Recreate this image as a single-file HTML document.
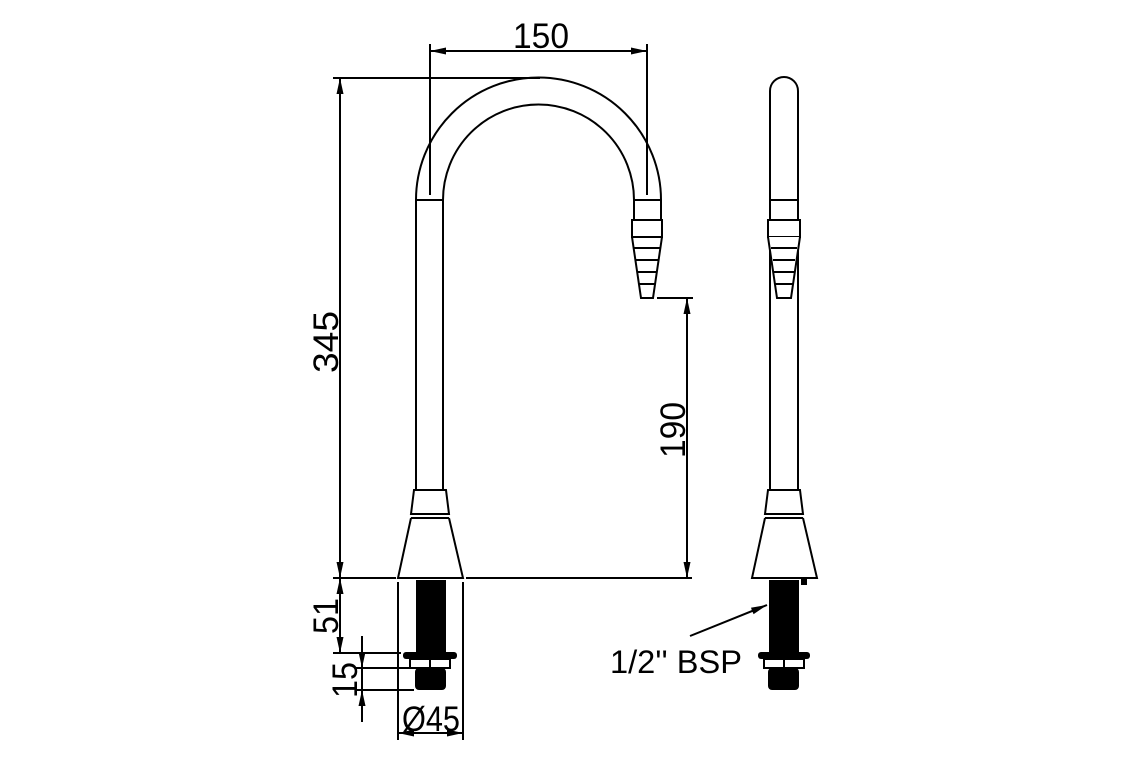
<!DOCTYPE html>
<html><head><meta charset="utf-8"><style>html,body{margin:0;padding:0;background:#fff}svg{display:block}</style></head><body>
<svg width="1140" height="760" viewBox="0 0 1140 760" xmlns="http://www.w3.org/2000/svg">
<defs>
<marker id="a" viewBox="0 0 16 8" refX="16" refY="4" markerWidth="16" markerHeight="8" markerUnits="userSpaceOnUse" orient="auto-start-reverse"><path d="M0,0.5 L16,4 L0,7.5 Z" fill="#000"/></marker>
</defs>
<g fill="none" stroke="#000" stroke-width="2">
<path d="M416,200 A122.5,122.5 0 0 1 661,200"/>
<path d="M443,200 A95.5,95.5 0 0 1 634,200"/>
<path d="M416,200 L416,490 M443,200 L443,490 M416,200 L443,200"/>
<path d="M634,200 L634,220 M661,200 L661,220 M634,200 L661,200"/>
<rect x="632" y="220" width="30" height="17"/>
<path d="M632,237 L641,298 L653,298 L662,237"/>
<path d="M634,248 L660,248 M636,260 L658,260 M638,272 L656,272 M639,284 L655,284"/>
<path d="M414,490 L446,490 L449,514 L411,514 Z"/>
<path d="M411,518 L449,518"/>
<path d="M411,518 L398,578 L463,578 L449,518"/>
<path d="M770,490 L770,91 A14,14 0 0 1 798,91 L798,490"/>
<path d="M770,200 L798,200"/>
<rect x="768" y="220" width="32" height="17" fill="#fff"/>
<path d="M768,237 L777,298 L791,298 L800,237" fill="#fff"/>
<path d="M771,248 L797,248 M773,260 L795,260 M774,272 L794,272 M775,284 L793,284"/>
<path d="M768,490 L800,490 L803,514 L765,514 Z"/>
<path d="M765,518 L803,518"/>
<path d="M765,518 L752,578 L817,578 L803,518"/>
</g>
<g fill="#000">
<rect x="416" y="580" width="30" height="72"/>
<rect x="403" y="652" width="54" height="7" rx="3"/>
<rect x="415" y="668" width="31" height="22" rx="4"/>
<rect x="769" y="580" width="30" height="72"/>
<rect x="758" y="652" width="52" height="7" rx="3"/>
<rect x="768" y="668" width="31" height="22" rx="4"/>
<rect x="801" y="578" width="6" height="7"/>
</g>
<g fill="#fff" stroke="#000" stroke-width="2">
<rect x="410" y="659" width="20" height="9"/><rect x="430" y="659" width="20" height="9"/>
<rect x="764" y="659" width="20" height="9"/><rect x="784" y="659" width="20" height="9"/>
</g>
<g stroke="#000" stroke-width="2" fill="none">
<path d="M430,44 L430,195 M647,44 L647,195"/>
<path d="M430,51 L647,51" marker-start="url(#a)" marker-end="url(#a)"/>
<path d="M333,78 L540,78"/>
<path d="M340,78 L340,578" marker-start="url(#a)" marker-end="url(#a)"/>
<path d="M333,578 L396,578 M466,578 L692,578"/>
<path d="M340,578 L340,653" marker-start="url(#a)" marker-end="url(#a)"/>
<path d="M333,653 L401,653"/>
<path d="M356,668 L410,668 M356,690 L414,690"/>
<path d="M362,636 L362,668" marker-end="url(#a)"/>
<path d="M362,722 L362,690" marker-end="url(#a)"/>
<path d="M362,668 L362,690"/>
<path d="M657,298 L693,298"/>
<path d="M687,298 L687,578" marker-start="url(#a)" marker-end="url(#a)"/>
<path d="M398,582 L398,740 M463,582 L463,740"/>
<path d="M398,733 L463,733" marker-start="url(#a)" marker-end="url(#a)"/>
<path d="M690,636 L767,605" marker-end="url(#a)"/>
</g>
<g font-family="Liberation Sans, sans-serif" font-size="35" fill="#000">
<text x="541" y="48" text-anchor="middle" textLength="56" lengthAdjust="spacingAndGlyphs">150</text>
<text transform="translate(338,342) rotate(-90)" text-anchor="middle" textLength="62" lengthAdjust="spacingAndGlyphs">345</text>
<text transform="translate(338,616) rotate(-90)" text-anchor="middle" textLength="36" lengthAdjust="spacingAndGlyphs">51</text>
<text transform="translate(357,680) rotate(-90)" text-anchor="middle" textLength="36" lengthAdjust="spacingAndGlyphs">15</text>
<text transform="translate(685,430) rotate(-90)" text-anchor="middle" textLength="56" lengthAdjust="spacingAndGlyphs">190</text>
<text x="431" y="731" text-anchor="middle" textLength="58" lengthAdjust="spacingAndGlyphs">Ø45</text>
<text x="610" y="673" font-size="32" textLength="132" lengthAdjust="spacingAndGlyphs">1/2'' BSP</text>
</g>
</svg>
</body></html>
